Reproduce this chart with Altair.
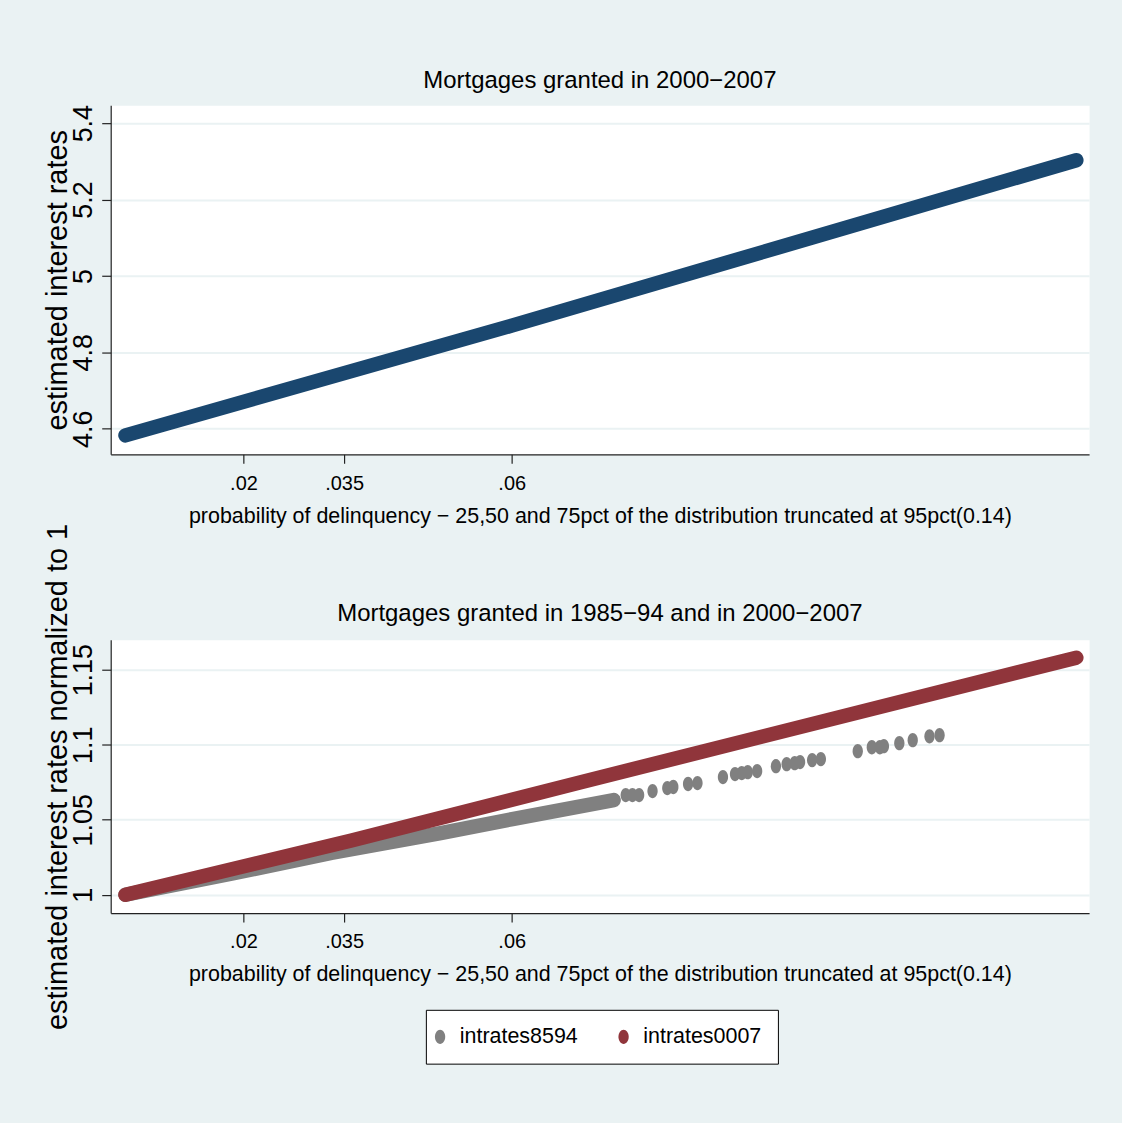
import altair as alt
import pandas as pd

# ---- data -------------------------------------------------------------
# 2000-2007 estimated rates (upper panel)
TOP_X = [0.0024, 0.0600, 0.1442]
TOP_Y = [4.5825, 4.870, 5.303]

# normalized rates, 2000-2007 (intrates0007)
RED_X = [0.0024, 0.0361, 0.0703, 0.1442]
RED_Y = [1.0, 1.0362, 1.0750, 1.1580]

# normalized rates, 1985-94 (intrates8594): dense part of the sample
GREY_BAND_X = [0.0024, 0.0182, 0.0331, 0.0494, 0.0601, 0.0752]
GREY_BAND_Y = [1.0, 1.0140, 1.0279, 1.0411, 1.0504, 1.0631]

# intrates8594: sparse observations in the upper tail
GREY_DOT_X = [0.0770, 0.0780, 0.0790, 0.0810, 0.0832, 0.0841, 0.0863, 0.0877,
              0.0915, 0.0933, 0.0943, 0.0952, 0.0966, 0.0994, 0.1010, 0.1022,
              0.1030, 0.1048, 0.1061, 0.1116, 0.1137, 0.1149, 0.1155, 0.1178,
              0.1198, 0.1223, 0.1238]
GREY_DOT_Y = [1.0664, 1.0664, 1.0664, 1.0691, 1.0711, 1.0718, 1.0738, 1.0744,
              1.0784, 1.0804, 1.0811, 1.0817, 1.0824, 1.0857, 1.0870, 1.0877,
              1.0884, 1.0897, 1.0904, 1.0957, 1.0983, 1.0983, 1.0990, 1.1010,
              1.1030, 1.1056, 1.1063]

X_TICKS = [0.02, 0.035, 0.06]
X_TICK_LABELS = [".02", ".035", ".06"]
TOP_Y_TICKS = [4.6, 4.8, 5.0, 5.2, 5.4]
BOTTOM_Y_TICKS = [1.0, 1.05, 1.1, 1.15]

SERIES = ["intrates8594", "intrates0007"]
SERIES_COLORS = ["#808080", "#90353B"]
NAVY = "#1A476F"

X_DOMAIN = [0.0002, 0.1461]
TOP_Y_DOMAIN = [4.533, 5.447]
BOTTOM_Y_DOMAIN = [0.9878, 1.1699]

TOP_TITLE = "Mortgages granted in 2000\u22122007"
BOTTOM_TITLE = "Mortgages granted in 1985\u221294 and in 2000\u22122007"
X_TITLE = ("probability of delinquency \u2212 25,50 and 75pct of the "
           "distribution truncated at 95pct(0.14)")

# ---- styling ----------------------------------------------------------
FONT = "Liberation Sans, Arial, Helvetica, sans-serif"
BG = "#EAF2F3"
# slightly tall ellipse marker
ELLIPSE = "M0,-1 A0.72,1 0 1,1 0,1 A0.72,1 0 1,1 0,-1 Z"
BAND_WIDTH = 14.5
DOT_SIZE = 205
PANEL_W = 981
TOP_H = 350
BOTTOM_H = 274
TITLE_SIZE = 24

top_df = pd.DataFrame({"x": TOP_X, "y": TOP_Y})
red_df = pd.DataFrame({"x": RED_X, "y": RED_Y})
grey_df = pd.DataFrame({"x": GREY_BAND_X, "y": GREY_BAND_Y})
dots_df = pd.DataFrame({"x": GREY_DOT_X, "y": GREY_DOT_Y, "series": SERIES[0]})
title_df = pd.DataFrame({"title": [BOTTOM_TITLE]})

label_expr = " : ".join(
    f"abs(datum.value - {v}) < 1e-9 ? '{t}'" for v, t in zip(X_TICKS, X_TICK_LABELS)
) + " : ''"


def x_enc():
    return alt.X(
        "x:Q",
        scale=alt.Scale(domain=X_DOMAIN, nice=False, zero=False),
        axis=alt.Axis(values=X_TICKS, labelExpr=label_expr, title=X_TITLE, grid=False),
    )


def y_enc(domain, ticks, title):
    return alt.Y(
        "y:Q",
        scale=alt.Scale(domain=domain, nice=False, zero=False),
        axis=alt.Axis(values=ticks, format="~g", title=title),
    )


line_kw = dict(strokeWidth=BAND_WIDTH, strokeCap="round", strokeJoin="round")

# upper panel
top = (
    alt.Chart(top_df)
    .mark_line(color=NAVY, **line_kw)
    .encode(x=x_enc(), y=y_enc(TOP_Y_DOMAIN, TOP_Y_TICKS, "estimated interest rates"))
    .properties(width=PANEL_W, height=TOP_H, title=TOP_TITLE)
)

# lower panel
bottom_y = y_enc(BOTTOM_Y_DOMAIN, BOTTOM_Y_TICKS,
                 "estimated interest rates normalized to 1")

grey_line = alt.Chart(grey_df).mark_line(color=SERIES_COLORS[0], **line_kw).encode(
    x=x_enc(), y=bottom_y,
)
red_line = alt.Chart(red_df).mark_line(color=SERIES_COLORS[1], **line_kw).encode(
    x="x:Q", y="y:Q",
)
grey_dots = alt.Chart(dots_df).mark_point(
    shape=ELLIPSE, size=DOT_SIZE, filled=True, opacity=1, strokeWidth=0
).encode(
    x="x:Q", y="y:Q",
    fill=alt.Fill(
        "series:N",
        scale=alt.Scale(domain=SERIES, range=SERIES_COLORS),
        legend=alt.Legend(
            orient="none", legendX=316, legendY=371, direction="horizontal",
            title=None, symbolType=ELLIPSE, symbolSize=DOT_SIZE, symbolStrokeWidth=0,
            symbolOpacity=1, symbolOffset=-12.5, labelFont=FONT, labelFontSize=21.5,
            labelColor="black", fillColor="white", strokeColor="black", padding=16,
            labelOffset=9, columnPadding=40,
        ),
    ),
)
# panel heading, centred above the lower plot
bottom_heading = alt.Chart(title_df).mark_text(
    font=FONT, fontSize=TITLE_SIZE, color="black", align="center", baseline="middle"
).encode(
    text="title:N",
    x=alt.value(PANEL_W / 2),
    y=alt.value(-26),
)

bottom = alt.layer(grey_line, red_line, grey_dots, bottom_heading).properties(
    width=PANEL_W, height=BOTTOM_H,
)

chart = (
    alt.vconcat(top, bottom, spacing=186, bounds="flush")
    .resolve_scale(x="independent", y="independent")
    .resolve_legend(fill="independent")
    .properties(padding={"left": 43, "top": 67, "right": 32, "bottom": 57})
    .configure(background=BG)
    .configure_view(fill="white", stroke="transparent")
    .configure_title(font=FONT, fontSize=TITLE_SIZE, fontWeight="normal", color="black",
                     anchor="middle", offset=11)
    .configure_axis(domainColor="#222222", domainWidth=1.2, tickColor="#222222",
                    tickWidth=1.2, tickSize=9, gridColor=BG, gridWidth=2,
                    labelColor="black", titleColor="black", titleFontWeight="normal")
    .configure_axisX(labelFont=FONT, labelFontSize=20, titleFont=FONT,
                     titleFontSize=21.5, labelPadding=10, titlePadding=12)
    .configure_axisY(labelFont=FONT, labelFontSize=27, labelAngle=-90,
                     titleFont=FONT, titleFontSize=29, labelPadding=4,
                     titlePadding=-3)
)

chart.save("out.html", embed_options={"renderer": "svg", "actions": False})
